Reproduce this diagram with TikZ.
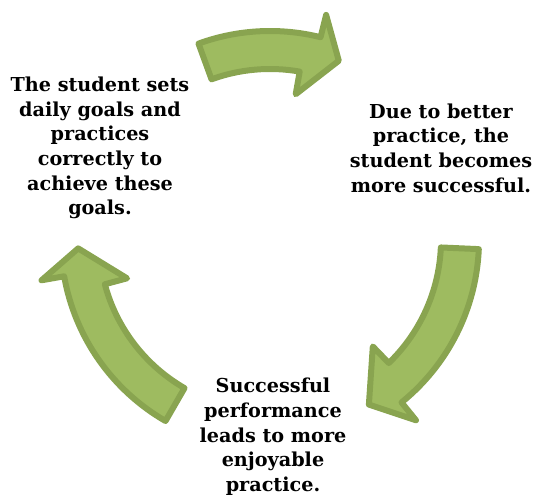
\documentclass[tikz,border=0pt]{standalone}
\usepackage{fontspec}
\setmainfont{DejaVu Serif}
\usepackage{tikz}
\usetikzlibrary{shadows}

\definecolor{arrowfill}{RGB}{158,187,96}
\definecolor{arrowline}{RGB}{137,164,80}

\begin{document}
\begin{tikzpicture}[x=0.75pt,y=0.75pt,yscale=-1,xscale=1,
    cyclearrow/.style={fill=arrowfill, draw=arrowline, line width=4.5pt, line join=round,
        drop shadow={opacity=0.15, shadow xshift=1.5pt, shadow yshift=-1.5pt}},
    steptext/.style={align=center, font=\fontsize{14.4}{18.5}\selectfont\bfseries, inner sep=0.75pt}]

        \useasboundingbox (0,0) rectangle (539,496);

        \begin{scope}[shift={(270,240)}]
        %Shape: Curved Arrow (top) 
        \draw [cyclearrow] (-110:209) arc[start angle=-110, end angle=-76, radius=209] -- (-76:232) -- (-69:192) -- (-80:148) -- (-80:171) arc[start angle=-80, end angle=-110, radius=171] -- cycle ;
        %Shape: Curved Arrow (right) 
        \draw [cyclearrow] (2.5:209) arc[start angle=2.5, end angle=51, radius=209] -- (51:232) -- (59:192) -- (46:148) -- (46:171) arc[start angle=46, end angle=2.5, radius=171] -- cycle ;
        %Shape: Curved Arrow (left) 
        \draw [cyclearrow] (120:209) arc[start angle=120, end angle=170, radius=209] -- (170:232) -- (177.5:192) -- (165:148) -- (165:171) arc[start angle=165, end angle=120, radius=171] -- cycle ;
        \end{scope}

        % Text Node
        \node [steptext] (goals) at (100,148) {The student sets\\daily goals and\\practices\\correctly to\\achieve these\\goals.};
        % Text Node
        \node [steptext] (success) at (441,148) {Due to better\\practice, the\\student becomes\\more successful.};
        % Text Node
        \node [steptext] (enjoy) at (273,437) {Successful\\performance\\leads to more\\enjoyable\\practice.};

\end{tikzpicture}
\end{document}
